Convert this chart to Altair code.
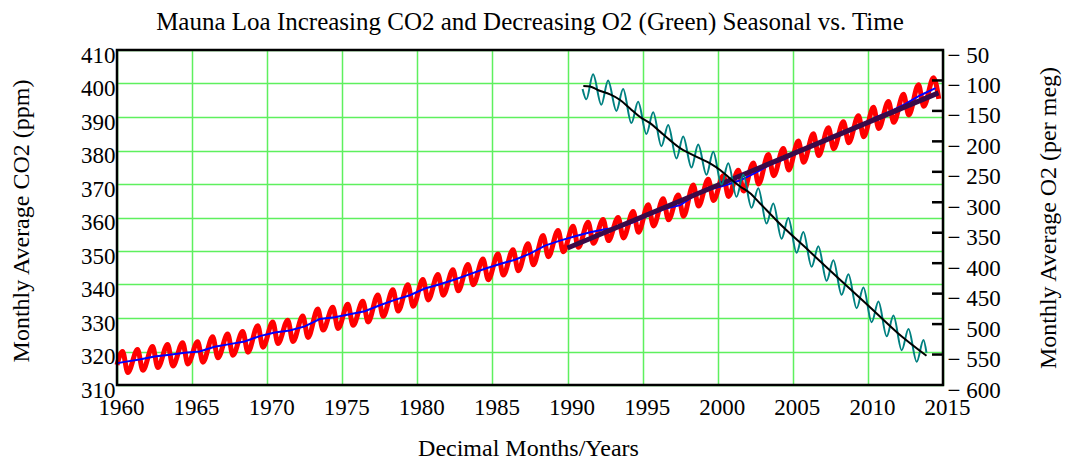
import altair as alt
import pandas as pd

# ---------------- data ----------------
years = list(range(1960, 2015))
co2_may_peak = [
    320.0, 320.6, 321.5, 322.1, 322.6, 322.9, 324.4, 325.2, 326.0, 327.7,
    328.8, 329.3, 330.6, 332.7, 333.2, 334.1, 335.0, 336.9, 338.4, 339.9,
    341.5, 343.0, 344.4, 346.0, 347.6, 349.1, 350.4, 352.2, 354.6, 356.1,
    357.4, 358.6, 359.4, 360.0, 361.8, 363.8, 365.6, 366.7, 369.7, 371.4,
    372.5, 374.1, 376.3, 378.8, 380.6, 382.8, 385.0, 386.8, 388.6, 390.4,
    392.9, 394.6, 396.8, 399.6, 401.7]
co2_sep_trough = [
    313.7, 314.4, 315.2, 315.7, 316.3, 316.8, 318.1, 318.9, 319.8, 321.3,
    322.4, 323.0, 324.2, 326.4, 326.9, 327.8, 328.8, 330.5, 332.1, 333.5,
    335.4, 336.8, 338.1, 339.9, 341.4, 342.8, 344.1, 345.9, 348.3, 349.8,
    351.1, 352.3, 353.1, 353.9, 355.6, 357.5, 359.3, 360.4, 363.4, 365.1,
    366.3, 367.9, 370.0, 372.5, 374.2, 376.5, 378.5, 380.5, 382.3, 384.1,
    386.6, 388.4, 390.6, 393.2, 395.4]
co2_annual_mean = [
    316.9, 317.6, 318.5, 319.0, 319.6, 320.0, 321.4, 322.2, 323.0, 324.6,
    325.7, 326.3, 327.5, 329.7, 330.2, 331.1, 332.0, 333.8, 335.4, 336.8,
    338.8, 340.1, 341.5, 343.1, 344.7, 346.1, 347.4, 349.2, 351.6, 353.1,
    354.4, 355.6, 356.5, 357.1, 358.8, 360.8, 362.6, 363.7, 366.7, 368.4,
    369.6, 371.1, 373.3, 375.8, 377.5, 379.8, 381.9, 383.8, 385.6, 387.4,
    389.9, 391.7, 393.9, 396.5, 398.6]
co2_first_time, co2_first_value = 1960.0, 316.0
co2_mean_first = 316.5
peak_frac, trough_frac = 0.37, 0.72

fit_time = [1990.0, 2014.7]
fit_co2 = [350.9, 397.2]

o2_years = list(range(1991, 2014))
o2_spring_low = [
    -131, -140, -150, -170, -188, -208, -228, -243, -255, -271, -291, -309,
    -335, -360, -383, -406, -429, -452, -474, -497, -520, -543, -562]
o2_summer_high = [
    -90, -100, -114, -135, -152, -173, -192, -205, -217, -236, -255, -277,
    -302, -326, -349, -372, -395, -418, -440, -463, -486, -508, -526]
o2_first_time, o2_first_value = 1991.0, -114
o2_last_time, o2_last_value = 2013.9, -547
low_frac, high_frac = 0.25, 0.70

o2_trend_time = [1991.05, 1991.5, 1992.05, 1992.83, 1993.5, 1994.16, 1994.83,
                 1995.5, 1996.16, 1996.82, 1997.49, 1998.16, 1998.82, 1999.49,
                 2000.16, 2000.82, 2001.49, 2002.16, 2002.82, 2003.26, 2004.0,
                 2006.0, 2008.0, 2010.0, 2012.0, 2013.9]
o2_trend = [-109, -110, -116, -123, -132, -146, -160, -170, -184, -198, -211,
            -220, -228, -236, -247, -261, -274, -285, -302, -313, -332, -378,
            -424, -469, -515, -552]

co2_ticks = list(range(310, 411, 10))
o2_ticks = list(range(-600, -49, 50))
o2_inner_ticks = list(range(-550, -99, 50))
year_ticks = list(range(1960, 2016, 5))

# ---------------- tables ----------------
red_t, red_v = [co2_first_time], [co2_first_value]
for y, p, t in zip(years, co2_may_peak, co2_sep_trough):
    red_t += [y + peak_frac, y + trough_frac]
    red_v += [p, t]
red_df = pd.DataFrame({"t": red_t, "v": red_v})

blue_df = pd.DataFrame({"t": [co2_first_time] + [y + 0.5 for y in years],
                        "v": [co2_mean_first] + co2_annual_mean})
fit_df = pd.DataFrame({"t": fit_time, "v": fit_co2})

teal_t, teal_v = [o2_first_time], [o2_first_value]
for y, lo, hi in zip(o2_years, o2_spring_low, o2_summer_high):
    teal_t += [y + low_frac, y + high_frac]
    teal_v += [lo, hi]
teal_t.append(o2_last_time)
teal_v.append(o2_last_value)
teal_df = pd.DataFrame({"t": teal_t, "v": teal_v})
trend_df = pd.DataFrame({"t": o2_trend_time, "v": o2_trend})
tick_df = pd.DataFrame({"v": o2_inner_ticks})

# ---------------- chart ----------------
W, H = 826, 335
FONT = "Liberation Serif"
GRID = "#5ef05e"
LABEL_SIZE = 23
TITLE_SIZE = 24


def xs():
    return alt.Scale(domain=[1960, 2015], nice=False, zero=False)


def co2s():
    return alt.Scale(domain=[310, 410], nice=False, zero=False)


def o2s():
    return alt.Scale(domain=[-600, -50], nice=False, zero=False)


def x_axis():
    return alt.Axis(values=year_ticks, format="d", ticks=False, domain=False,
                    labelPadding=11, labelOffset=4, labelFlush=False, labelOverlap=False,
                    grid=True, gridColor=GRID, gridWidth=1.5,
                    title="Decimal Months/Years", titleX=W / 2 - 2, titleY=63,
                    titleBaseline="middle", titleAlign="center")


co2_axis = alt.Axis(orient="left", values=co2_ticks, ticks=False, domain=False, labelPadding=2,
                    labelOffset=5, labelOverlap=False, labelFlush=False,
                    grid=True, gridColor=GRID, gridWidth=1.5,
                    title="Monthly Average CO2 (ppm)", titleAngle=270,
                    titleX=-96, titleY=H / 2 + 3, titleBaseline="middle", titleAlign="center")
o2_axis = alt.Axis(orient="right", values=o2_ticks, ticks=False, domain=False, labelPadding=4,
                   labelOffset=5, labelOverlap=False, labelFlush=False, grid=False,
                   labelExpr="'\u2212 ' + abs(datum.value)",
                   title="Monthly Average O2 (per meg)", titleAngle=270,
                   titleX=105, titleY=H / 2, titleBaseline="middle", titleAlign="center")

red = alt.Chart(red_df).mark_line(color="#ff0000", strokeWidth=5, interpolate="monotone").encode(
    x=alt.X("t:Q", scale=xs(), axis=x_axis()),
    y=alt.Y("v:Q", scale=co2s(), axis=co2_axis))
blue = alt.Chart(blue_df).mark_line(color="#0000ff", strokeWidth=2).encode(
    x=alt.X("t:Q", scale=xs(), axis=x_axis()),
    y=alt.Y("v:Q", scale=co2s(), axis=None))
fit = alt.Chart(fit_df).mark_line(color="#3a0a48", strokeWidth=5).encode(
    x=alt.X("t:Q", scale=xs(), axis=x_axis()),
    y=alt.Y("v:Q", scale=co2s(), axis=None))
teal = alt.Chart(teal_df).mark_line(color="#008080", strokeWidth=2, interpolate="monotone").encode(
    x=alt.X("t:Q", scale=xs(), axis=x_axis()),
    y=alt.Y("v:Q", scale=o2s(), axis=o2_axis))
black = alt.Chart(trend_df).mark_line(color="#000000", strokeWidth=2, interpolate="monotone").encode(
    x=alt.X("t:Q", scale=xs(), axis=x_axis()),
    y=alt.Y("v:Q", scale=o2s(), axis=None))
inner = alt.Chart(tick_df).mark_rule(color="#000000", strokeWidth=2.5).encode(
    y=alt.Y("v:Q", scale=o2s(), axis=None),
    x=alt.value(W - 11), x2=alt.value(W))
frame = alt.Chart(pd.DataFrame({"a": [0]})).mark_rect(
    fillOpacity=0, stroke="#000000", strokeWidth=2.5).encode(
    x=alt.value(0), x2=alt.value(W), y=alt.value(0), y2=alt.value(H))

chart = alt.layer(red, blue, fit, teal, black, inner, frame).resolve_scale(
    y="independent").properties(
    width=W, height=H,
    title=alt.Title("Mauna Loa Increasing CO2 and Decreasing O2 (Green) Seasonal vs. Time",
                    font=FONT, fontSize=25, fontWeight="normal", color="#000000",
                    anchor="middle", offset=9),
    autosize=alt.AutoSizeParams(type="none"),
    padding={"left": 109, "top": 42, "right": 119, "bottom": 75},
).configure_view(stroke=None).configure_axis(
    labelFont=FONT, titleFont=FONT, labelFontSize=LABEL_SIZE, titleFontSize=TITLE_SIZE,
    labelColor="#000000", titleColor="#000000", titleFontWeight="normal")

chart.save("out.html", embed_options={"renderer": "svg", "actions": False})
